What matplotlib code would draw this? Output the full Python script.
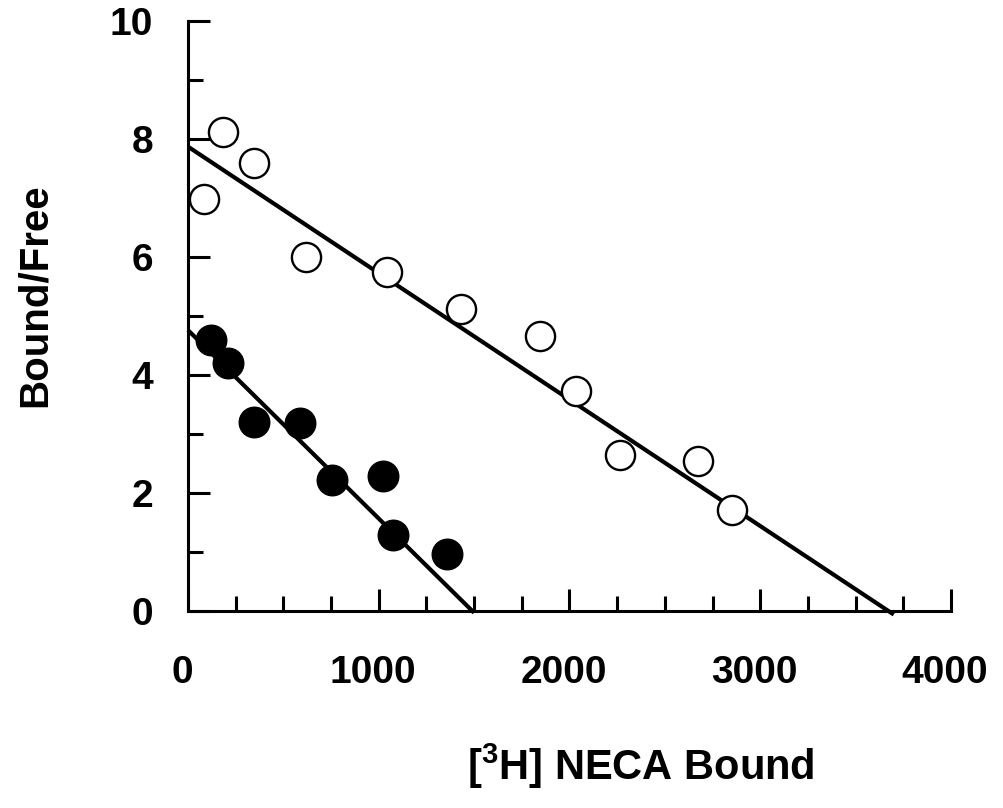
import matplotlib
matplotlib.use("Agg")
import matplotlib.pyplot as plt
import matplotlib.transforms as mtransforms
from matplotlib.ticker import MultipleLocator

# Data
open_x = [86, 185, 346, 618, 1045, 1431, 1845, 2034, 2264, 2673, 2851]
open_y = [6.99, 8.12, 7.60, 6.00, 5.75, 5.12, 4.66, 3.73, 2.64, 2.54, 1.71]
filled_x = [121, 211, 346, 587, 753, 1024, 1073, 1356]
filled_y = [4.59, 4.20, 3.21, 3.18, 2.22, 2.28, 1.28, 0.97]

# fitted lines (endpoints)
open_line_x = [0, 3700]
open_line_y = [7.87, -0.06]
filled_line_x = [0, 1500]
filled_line_y = [4.76, -0.03]

x_ticks = [0, 1000, 2000, 3000, 4000]
y_ticks = [0, 2, 4, 6, 8, 10]

plt.rcParams['font.family'] = ['Liberation Sans', 'DejaVu Sans']
plt.rcParams['font.weight'] = 'bold'
plt.rcParams['mathtext.fontset'] = 'custom'
plt.rcParams['mathtext.bf'] = 'Liberation Sans:bold'

fig = plt.figure(figsize=(10.04, 8.08), dpi=100)
ax = fig.add_axes([188/1004, 1-611/808, (951-188)/1004, (611-21)/808])

ax.plot(open_line_x, open_line_y, color='black', lw=3.0, solid_capstyle='butt', clip_on=False, zorder=2)
ax.plot(filled_line_x, filled_line_y, color='black', lw=3.0, solid_capstyle='butt', clip_on=False, zorder=2)
ax.plot(open_x, open_y, 'o', ms=21, mfc='white', mec='black', mew=1.7, clip_on=False, zorder=3)
ax.plot(filled_x, filled_y, 'o', ms=22, mfc='black', mec='black', mew=1.0, clip_on=False, zorder=3)

ax.set_xlim(0, 4000)
ax.set_ylim(0, 10)
for s in ['top', 'right']:
    ax.spines[s].set_visible(False)
for s in ['left', 'bottom']:
    ax.spines[s].set_linewidth(2.2)

ax.set_xticks(x_ticks)
ax.set_yticks(y_ticks)
ax.xaxis.set_minor_locator(MultipleLocator(250))
ax.yaxis.set_minor_locator(MultipleLocator(1))
ax.tick_params(which='major', direction='in', length=16, width=2.2, labelsize=28)
ax.tick_params(which='minor', direction='in', length=11, width=2.2)
ax.tick_params(axis='x', which='major', pad=32)
ax.tick_params(axis='y', which='major', pad=25)
shift = mtransforms.ScaledTranslation(-6/100, 0, fig.dpi_scale_trans)
for lab in ax.get_xticklabels():
    lab.set_fontweight('bold')
    lab.set_transform(lab.get_transform() + shift)
for lab in ax.get_yticklabels():
    lab.set_fontweight('bold')

fig.text(35/1004, 1-295/808, 'Bound/Free', rotation=90, ha='center', va='center',
         fontsize=29, fontweight='bold')
fig.text(641/1004, 1-766/808, r'[$^{\mathbf{3}}$H] NECA Bound', ha='center', va='center',
         fontsize=30, fontweight='bold')

fig.savefig('out.png', dpi=100)
